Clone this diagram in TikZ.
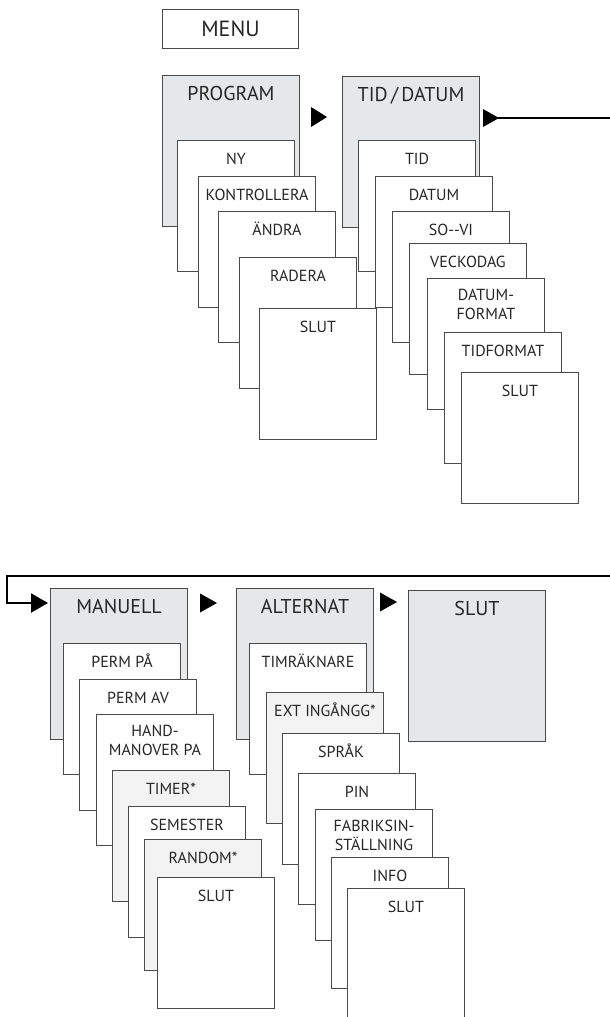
\documentclass[tikz,border=0pt]{standalone}
\usepackage{fontspec}
\setmainfont{PT Sans}
\usepackage{xcolor}
\usepackage{tikz}
\usetikzlibrary{arrows.meta}
\definecolor{boxline}{HTML}{4A4A4A}
\definecolor{hdfill}{HTML}{E6E7E8}
\definecolor{optfill}{HTML}{F3F3F3}
\newcommand{\menuhdfont}{\fontsize{20}{24}\selectfont}
\newcommand{\menuitfont}{\fontsize{16}{19}\selectfont}
\tikzset{
    hdlbl/.style={anchor=north, inner sep=0pt, yshift=-8.7pt, font=\menuhdfont,
      align=center, text=black!85, execute at begin node=\strut},
    itlbl/.style={anchor=north, inner sep=0pt, yshift=-10.7pt, font=\menuitfont,
      align=center, text=black!85, execute at begin node=\strut},
    menubox/.style={draw=boxline, line width=1pt, fill=white, minimum width=136pt,
      minimum height=39pt, anchor=north west, inner sep=0pt,
      font=\fontsize{22}{26}\selectfont, text=black!85},
    hdbox/.style={draw=boxline, line width=1pt, fill=hdfill, minimum width=137pt,
      minimum height=151pt, anchor=north west, inner sep=0pt, label={[hdlbl]north:#1}},
    itembox/.style={draw=boxline, line width=1pt, fill=white, minimum width=117pt,
      minimum height=131pt, anchor=north west, inner sep=0pt, label={[itlbl]north:#1}},
    optbox/.style={itembox=#1, fill=optfill},
    flow/.style={line width=2.2pt, black}
}
\begin{document}
\begin{tikzpicture}[x=1pt, y=-1pt]
    \useasboundingbox (0,0) rectangle (610,1017);
    \node[menubox] (menu) at (162,9) {MENU};
    \node[hdbox=PROGRAM] (program) at (162,75) {};
    \node[itembox=NY] (ny) at (177,140) {};
    \node[itembox=KONTROLLERA] (kontrollera) at (198,176) {};
    \node[itembox=ÄNDRA] (andra) at (218,211) {};
    \node[itembox=RADERA] (radera) at (239,257) {};
    \node[itembox=SLUT] (slutprogram) at (259,308) {};
    \node[hdbox=TID\,/\,DATUM] (tiddatum) at (342,76) {};
    \node[itembox=TID] (tid) at (358,140) {};
    \node[itembox=DATUM] (datum) at (375,176) {};
    \node[itembox=SO-{}-VI] (sovi) at (392,211) {};
    \node[itembox=VECKODAG] (veckodag) at (409,243) {};
    \node[itembox={DATUM-\\FORMAT}] (datumformat) at (427,278) {};
    \node[itembox=TIDFORMAT] (tidformat) at (444,332) {};
    \node[itembox=SLUT] (sluttid) at (461,372) {};
    \node[hdbox=MANUELL] (manuell) at (50,588) {};
    \node[itembox=PERM PÅ] (permpa) at (63,643) {};
    \node[itembox=PERM AV] (permav) at (79,679) {};
    \node[itembox={HAND-\\MANOVER PA}] (handmanover) at (96,714) {};
    \node[optbox=TIMER*] (timer) at (112,770) {};
    \node[itembox=SEMESTER] (semester) at (128,806) {};
    \node[optbox=RANDOM*] (random) at (144,839) {};
    \node[itembox=SLUT] (slutmanuell) at (157,877) {};
    \node[hdbox=ALTERNAT] (alternat) at (236,588) {};
    \node[itembox=TIMRÄKNARE] (timraknare) at (249,643) {};
    \node[optbox=EXT INGÅNGG*] (extingang) at (266,692) {};
    \node[itembox=SPRÅK] (sprak) at (282,733) {};
    \node[itembox=PIN] (pin) at (298,773) {};
    \node[itembox={FABRIKSIN-\\STÄLLNING}] (fabriks) at (315,809) {};
    \node[itembox=INFO] (info) at (331,857) {};
    \node[itembox=SLUT] (slutalternat) at (347,888) {};
    \node[hdbox=SLUT] (slut) at (408,590) {};
    \coordinate (nav1) at (311,117);
    \coordinate (nav2) at (483,118);
    \coordinate (nav3) at (200,603);
    \coordinate (nav4) at (380,602);
    \coordinate (wrapout) at (610,118);
    \coordinate (wrapin) at (610,576);
    \coordinate (wrapturn) at (7,576);
    \draw[flow] (nav2) -- (wrapout);
    \draw[flow, -{Triangle[length=17pt, width=19pt]}, shorten >=2pt]
      (wrapin) -- (wrapturn) |- (manuell.west |- nav3);
    \fill (nav1) -- ++(0,-10) -- ++(16,10) -- ++(-16,10) -- cycle;
    \fill (nav2) -- ++(0,-9) -- ++(16,9) -- ++(-16,9) -- cycle;
    \fill (nav3) -- ++(0,-9.5) -- ++(17,9.5) -- ++(-17,9.5) -- cycle;
    \fill (nav4) -- ++(0,-9.5) -- ++(17,9.5) -- ++(-17,9.5) -- cycle;
\end{tikzpicture}
\end{document}
